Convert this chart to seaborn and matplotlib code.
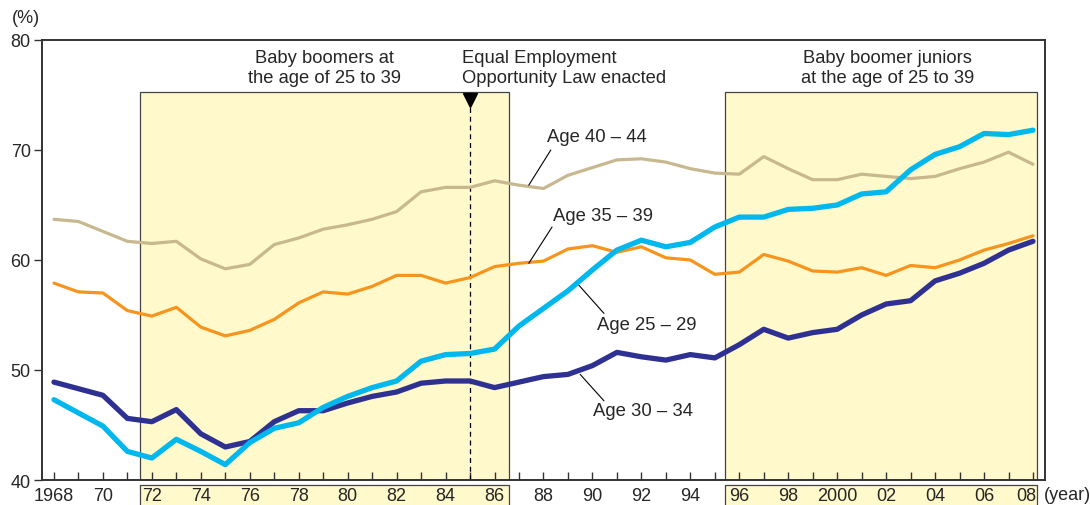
import numpy as np
import pandas as pd
import matplotlib
matplotlib.use("Agg")
import matplotlib.pyplot as plt
import matplotlib.transforms as mtransforms
from matplotlib.patches import Rectangle
import seaborn as sns

years = list(range(1968, 2009))

age_40_44 = [63.7, 63.5, 62.6, 61.7, 61.5, 61.7, 60.1, 59.2, 59.6, 61.4,
             62.0, 62.8, 63.2, 63.7, 64.4, 66.2, 66.6, 66.6, 67.2, 66.8,
             66.5, 67.7, 68.4, 69.1, 69.2, 68.9, 68.3, 67.9, 67.8, 69.4,
             68.3, 67.3, 67.3, 67.8, 67.6, 67.4, 67.6, 68.3, 68.9, 69.8, 68.7]
age_35_39 = [57.9, 57.1, 57.0, 55.4, 54.9, 55.7, 53.9, 53.1, 53.6, 54.6,
             56.1, 57.1, 56.9, 57.6, 58.6, 58.6, 57.9, 58.4, 59.4, 59.7,
             59.9, 61.0, 61.3, 60.7, 61.2, 60.2, 60.0, 58.7, 58.9, 60.5,
             59.9, 59.0, 58.9, 59.3, 58.6, 59.5, 59.3, 60.0, 60.9, 61.5, 62.2]
age_30_34 = [48.9, 48.3, 47.7, 45.6, 45.3, 46.4, 44.2, 43.0, 43.5, 45.3,
             46.3, 46.3, 47.0, 47.6, 48.0, 48.8, 49.0, 49.0, 48.4, 48.9,
             49.4, 49.6, 50.4, 51.6, 51.2, 50.9, 51.4, 51.1, 52.3, 53.7,
             52.9, 53.4, 53.7, 55.0, 56.0, 56.3, 58.1, 58.8, 59.7, 60.9, 61.7]
age_25_29 = [47.3, 46.1, 44.9, 42.6, 42.0, 43.7, 42.6, 41.4, 43.4, 44.7,
             45.2, 46.6, 47.6, 48.4, 49.0, 50.8, 51.4, 51.5, 51.9, 54.0,
             55.6, 57.2, 59.1, 60.9, 61.8, 61.2, 61.6, 63.0, 63.9, 63.9,
             64.6, 64.7, 65.0, 66.0, 66.2, 68.2, 69.6, 70.3, 71.5, 71.4, 71.8]

series_names = ["Age 40 – 44", "Age 35 – 39", "Age 30 – 34", "Age 25 – 29"]
series_colors = ["#c8b88f", "#f7941d", "#2e3192", "#00b7ee"]
series_widths = [2.3, 2.3, 3.8, 3.8]

boomer_span = (1971.5, 1986.6)
junior_span = (1995.4, 2008.15)
law_year = 1985

df = pd.DataFrame({"year": years,
                   "Age 40 – 44": age_40_44,
                   "Age 35 – 39": age_35_39,
                   "Age 30 – 34": age_30_34,
                   "Age 25 – 29": age_25_29})
long_df = df.melt(id_vars="year", var_name="group", value_name="rate")

sns.set_style("ticks")
plt.rcParams["font.family"] = ["Liberation Sans", "DejaVu Sans"]

fig = plt.figure(figsize=(10.9, 5.06), dpi=100)
ax = fig.add_axes([0.0385, 0.0494, 0.9202, 0.8696])

shade = "#fff9cc"
edge = "#444444"
top_val = 75.27
blend = mtransforms.blended_transform_factory(ax.transData, ax.transAxes)
for x0, x1 in [boomer_span, junior_span]:
    ax.add_patch(Rectangle((x0, 40), x1 - x0, top_val - 40, facecolor=shade,
                           edgecolor=edge, lw=0.9, zorder=0))
    # shaded box under the axis around the tick labels
    ax.add_patch(Rectangle((x0, -0.08), x1 - x0, 0.08 - 0.0115, transform=blend,
                           facecolor=shade, edgecolor=edge, lw=0.9,
                           clip_on=False, zorder=0))

ax.plot([law_year, law_year], [40, top_val], color="black", lw=0.9,
        ls=(0, (4, 3)), zorder=1)
ax.plot([law_year], [top_val - 0.75], marker="v", color="black",
        markersize=10, zorder=5)

for name, color, lw in zip(series_names, series_colors, series_widths):
    sns.lineplot(data=long_df[long_df["group"] == name], x="year", y="rate",
                 color=color, linewidth=lw, ax=ax, zorder=3,
                 solid_joinstyle="round", solid_capstyle="round")

ax.set_xlim(1967.51, 2008.49)
ax.set_ylim(40, 80)
ax.set_xlabel("")
ax.set_ylabel("")

even_years = list(range(1968, 2009, 2))
xlabels = []
for y in even_years:
    if y in (1968, 2000):
        xlabels.append(str(y))
    else:
        xlabels.append(f"{y % 100:02d}")
ax.set_xticks(even_years)
ax.set_xticklabels(xlabels)
ax.set_xticks(list(range(1969, 2009, 2)), minor=True)
ax.tick_params(axis="x", which="both", direction="in", length=6, width=1,
               color="#333333", labelsize=13, pad=5)
ax.set_yticks([40, 50, 60, 70, 80])
ax.tick_params(axis="y", direction="out", length=6, width=1, color="#333333",
               labelsize=13, pad=2)
for sp in ax.spines.values():
    sp.set_color("#333333")
    sp.set_linewidth(1.4)

# nudge the last year label left so it stays inside its box
last = ax.get_xticklabels()[-1]
last.set_transform(last.get_transform() +
                   mtransforms.ScaledTranslation(-0.07, 0, fig.dpi_scale_trans))

fig.text(0.024, 0.964, "(%)", ha="center", va="center", fontsize=13)
fig.text(0.958, 0.02, "(year)", ha="left", va="center", fontsize=13)

ax.text(1979.07, 77.5, "Baby boomers at\nthe age of 25 to 39", ha="center",
        va="center", fontsize=13.2, linespacing=1.3)
ax.text(1984.67, 77.5, "Equal Employment\nOpportunity Law enacted", ha="left",
        va="center", fontsize=13.2, linespacing=1.3)
ax.text(2002.07, 77.5, "Baby boomer juniors\nat the age of 25 to 39", ha="center",
        va="center", fontsize=13.2, linespacing=1.3)

# labels with leader lines
labels = [("Age 40 – 44", 1990.2, 71.2, (1987.4, 66.8), (1988.3, 70.0)),
          ("Age 35 – 39", 1990.45, 64.0, (1987.4, 59.7), (1988.35, 63.0)),
          ("Age 25 – 29", 1992.2, 54.1, (1989.45, 57.7), (1990.47, 55.15)),
          ("Age 30 – 34", 1992.07, 46.3, (1989.5, 49.6), (1990.47, 47.2))]
for text, tx, ty, p0, p1 in labels:
    ax.plot([p0[0], p1[0]], [p0[1], p1[1]], color="black", lw=0.8, zorder=4)
    ax.text(tx, ty, text, ha="center", va="center", fontsize=13.3, zorder=4)

fig.savefig("out.png", dpi=100)
